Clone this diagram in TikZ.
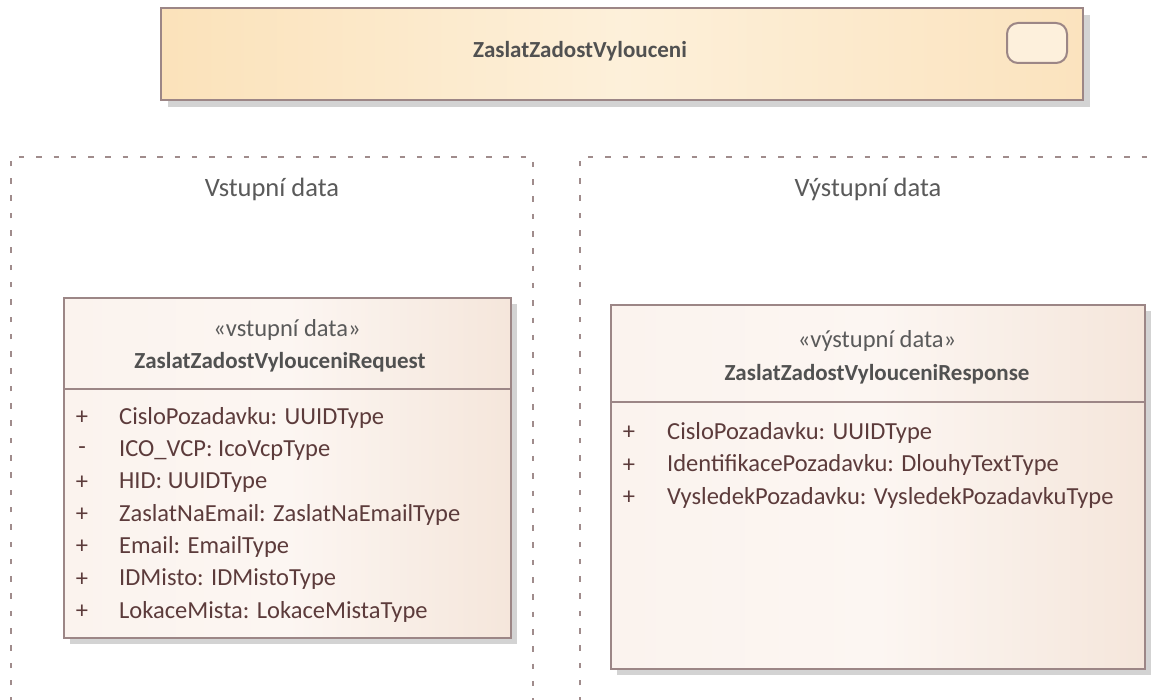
\documentclass[tikz,border=0pt]{standalone}
\usepackage{fontspec}
\setmainfont{Carlito}
\definecolor{bordc}{HTML}{9C8686}
\definecolor{dashc}{HTML}{A08C8C}
\definecolor{shadc}{HTML}{D3D3D3}
\definecolor{graytxt}{HTML}{5A5A5A}
\definecolor{attrc}{HTML}{5C3B3B}
\definecolor{topL}{HTML}{FBE2BA}
\definecolor{topM}{HTML}{FDF0DA}
\definecolor{topR}{HTML}{FBE3BE}
\definecolor{clsL}{HTML}{FBF3EE}
\definecolor{clsM}{HTML}{FCF6F2}
\definecolor{clsR}{HTML}{F5E6DB}
\definecolor{iconf}{HTML}{FDF0DC}
\begin{document}
\begin{tikzpicture}[x=1pt,y=-1pt,
  font=\fontsize{24.5}{29}\selectfont,
  shad/.style={fill=shadc, draw=none},
  cont/.style={draw=dashc, line width=2pt, dash pattern=on 5.5pt off 11.8pt},
  topbox/.style={draw=bordc, line width=2pt, left color=topL, right color=topR, middle color=topM, anchor=north west, inner sep=0pt},
  classbox/.style={draw=bordc, line width=2pt, left color=clsL, right color=clsR, middle color=clsM, anchor=north west, inner sep=0pt},
  lbl/.style={text=graytxt, inner sep=0pt},
  contlbl/.style={text=graytxt, inner sep=0pt, font=\fontsize{26.5}{30}\selectfont},
  namelbl/.style={text=graytxt!90!black, font=\fontsize{23}{28}\selectfont\bfseries, inner sep=0pt},
  vis/.style={text=attrc, inner sep=0pt},
  attr/.style={text=attrc, anchor=west, inner sep=0pt},
  sep/.style={draw=bordc, line width=2pt}]
\useasboundingbox (0,0) rectangle (1157,700);
\fill[white] (0,0) rectangle (1157,700);
% containers
\begin{scope}
\clip (0,0) rectangle (1157,700);
\coordinate (c1a) at (11,720);
\coordinate (c1b) at (11,157);
\coordinate (c1c) at (533,157);
\coordinate (c1d) at (533,720);
\draw[cont] (c1a) -- (c1b) -- (c1c) -- (c1d);
\coordinate (c2a) at (580,720);
\coordinate (c2b) at (580,157);
\coordinate (c2c) at (1180,157);
\draw[cont] (c2a) -- (c2b) -- (c2c);
\end{scope}
\node[contlbl] (vin) at (272,189) {Vstupní data};
\node[contlbl] (vout) at (868,189) {Výstupní data};
% top activity box
\fill[shad] (168,15) rectangle (1090,107);
\node[topbox, minimum width=922pt, minimum height=92pt] (act) at (160,7) {};
\node[namelbl] (acttitle) at (580,51) {ZaslatZadostVylouceni};
\draw[draw=bordc, line width=2pt, fill=iconf, rounded corners=11pt] (1007,23) rectangle (1067,63);
% request class
\fill[shad] (70,304) rectangle (517,644);
\node[classbox, minimum width=447pt, minimum height=340pt] (req) at (63,297) {};
\draw[sep] (63,389) -- (510,389);
\node[lbl] (reqst) at (287,330) {«vstupní data»};
\node[namelbl] (reqname) at (280,362) {ZaslatZadostVylouceniRequest};
\foreach \v/\t [count=\i from 0] in {+/CisloPozadavku: UUIDType, -/ICO\_VCP: IcoVcpType, +/HID: UUIDType, +/ZaslatNaEmail: ZaslatNaEmailType, +/Email: EmailType, +/IDMisto: IDMistoType, +/LokaceMista: LokaceMistaType}{
  \node[vis] (rv\i) at (82,418+32.3*\i) {\v};
  \node[attr] (ra\i) at (119,418+32.3*\i) {\t};
}
% response class
\fill[shad] (617,311) rectangle (1151,675);
\node[classbox, minimum width=534pt, minimum height=364pt] (resp) at (610,304) {};
\draw[sep] (610,402) -- (1144,402);
\node[lbl] (respst) at (877,341) {«výstupní data»};
\node[namelbl] (respname) at (877,374) {ZaslatZadostVylouceniResponse};
\foreach \v/\t [count=\i from 0] in {+/CisloPozadavku: UUIDType, +/IdentifikacePozadavku: DlouhyTextType, +/VysledekPozadavku: VysledekPozadavkuType}{
  \node[vis] (sv\i) at (629,433+32.3*\i) {\v};
  \node[attr] (sa\i) at (667,433+32.3*\i) {\t};
}
\end{tikzpicture}
\end{document}
